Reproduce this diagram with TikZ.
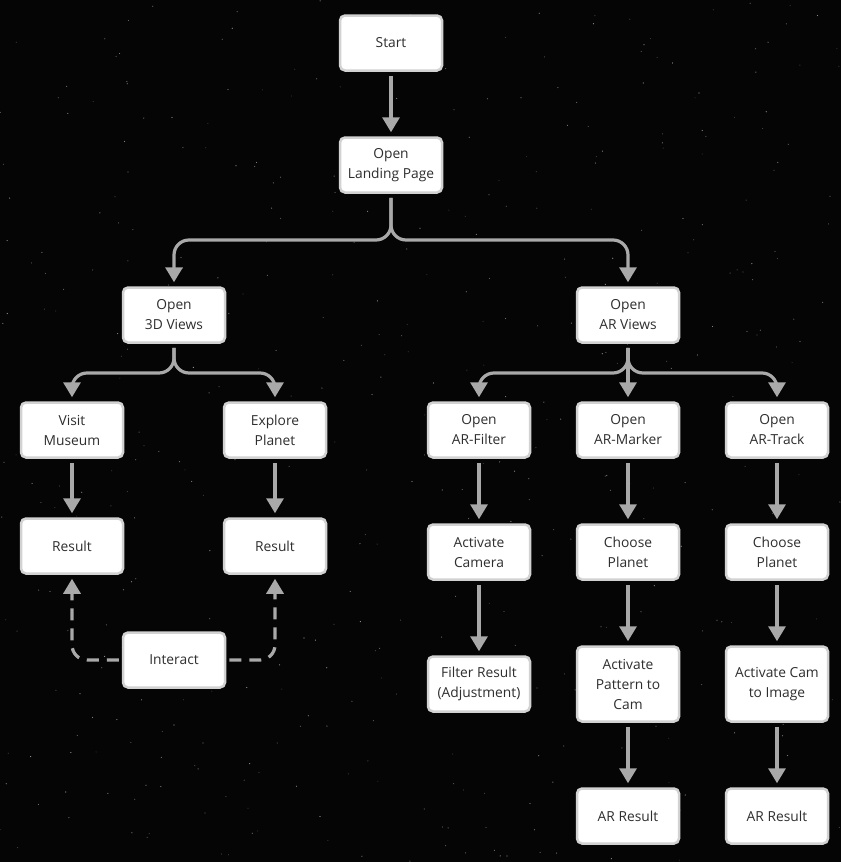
\documentclass[tikz,border=0pt]{standalone}
\usepackage{fontspec}
\setmainfont{Open Sans}
\usetikzlibrary{arrows.meta}
\definecolor{bg}{HTML}{050505}
\definecolor{boxline}{HTML}{D2D2D2}
\definecolor{txt}{HTML}{2E2E2E}
\definecolor{arr}{HTML}{A9A9A9}
\tikzset{
  box/.style={rectangle, rounded corners=5pt, fill=white, draw=boxline, line width=2.5pt,
    minimum width=102pt, minimum height=55pt, align=center, text=txt,
    font=\fontsize{13.8}{20}\selectfont, inner sep=2pt},
  tallbox/.style={box, minimum height=75pt},
  flow/.style={draw=arr, line width=3.2pt, -{Triangle[width=17pt,length=15pt]},
    shorten <=4pt, shorten >=4pt, rounded corners=15pt},
  dflow/.style={flow, dash pattern=on 12pt off 8pt, shorten <=3pt},
}
\begin{document}
\begin{tikzpicture}[x=1pt,y=-1pt]
\fill[bg] (0,0) rectangle (841,862);
\useasboundingbox (0,0) rectangle (841,862);
\foreach \k in {1,...,16}{
  \fill[white, opacity=0.004, rotate around={-28:(720,480)}] (720,480) ellipse ({40+14*\k} and {8+6*\k});
}
\pgfmathsetseed{7}
\foreach \i in {1,...,500}{
  \pgfmathsetmacro{\sx}{rnd*841}
  \pgfmathsetmacro{\sy}{rnd*862}
  \pgfmathsetmacro{\so}{0.15+rnd*0.45}
  \fill[white, opacity=\so] (\sx,\sy) circle (0.6pt);
}
\node[box] (start) at (391,43) {Start};
\node[box] (land) at (391,165) {Open\\Landing Page};
\node[box] (v3d) at (174,315) {Open\\3D Views};
\node[box] (var) at (628,315) {Open\\AR Views};
\node[box] (mus) at (72,430) {Visit\\Museum};
\node[box] (exp) at (275,430) {Explore\\Planet};
\node[box] (filt) at (479,430) {Open\\AR-Filter};
\node[box] (mark) at (628,430) {Open\\AR-Marker};
\node[box] (trk) at (777,430) {Open\\AR-Track};
\node[box] (res1) at (72,546) {Result};
\node[box] (res2) at (275,546) {Result};
\node[box] (inter) at (174,660) {Interact};
\node[box] (cam) at (479,552) {Activate\\Camera};
\node[box] (cp1) at (628,552) {Choose\\Planet};
\node[box] (cp2) at (777,552) {Choose\\Planet};
\node[box] (fres) at (479,684) {Filter Result\\(Adjustment)};
\node[tallbox] (pat) at (628,684) {Activate\\Pattern to\\Cam};
\node[tallbox] (img) at (777,684) {Activate Cam\\to Image};
\node[box] (ar1) at (628,816) {AR Result};
\node[box] (ar2) at (777,816) {AR Result};

\draw[flow] (start) -- (land);
\draw[flow] (land.south) |- (v3d.north |- 0,240) -- (v3d.north);
\draw[flow] (land.south) |- (var.north |- 0,240) -- (var.north);
\draw[flow] (v3d.south) |- (mus.north |- 0,373) -- (mus.north);
\draw[flow] (v3d.south) |- (exp.north |- 0,373) -- (exp.north);
\draw[flow] (var.south) |- (filt.north |- 0,373) -- (filt.north);
\draw[flow] (var.south) |- (trk.north |- 0,373) -- (trk.north);
\draw[flow] (var) -- (mark);
\draw[flow] (mus) -- (res1);
\draw[flow] (exp) -- (res2);
\draw[flow] (filt) -- (cam);
\draw[flow] (cam) -- (fres);
\draw[flow] (mark) -- (cp1);
\draw[flow] (cp1) -- (pat);
\draw[flow] (pat) -- (ar1);
\draw[flow] (trk) -- (cp2);
\draw[flow] (cp2) -- (img);
\draw[flow] (img) -- (ar2);
\draw[dflow] (inter.west) -| (res1.south);
\draw[dflow] (inter.east) -| (res2.south);
\end{tikzpicture}
\end{document}
